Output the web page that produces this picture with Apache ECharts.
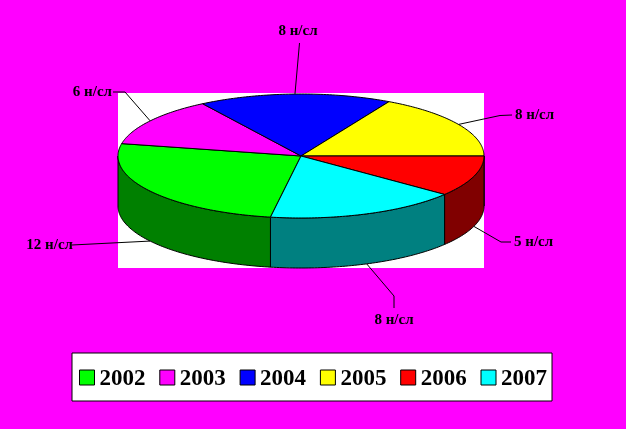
<!DOCTYPE html>
<html>
<head>
<meta charset="utf-8">
<style>html,body{margin:0;padding:0;background:#ff00ff}#c{width:626px;height:429px}</style>
<script src="https://cdn.jsdelivr.net/npm/echarts@6/dist/echarts.min.js"></script>
</head>
<body>
<div id="c"></div>
<script>
const years = ['2002', '2003', '2004', '2005', '2006', '2007'];
const values = [12, 6, 8, 8, 5, 8];
const unit = ' н/сл';
const topColors = ['#00ff00', '#ff00ff', '#0000ff', '#ffff00', '#ff0000', '#00ffff'];
const wallColors = ['#008000', '#800080', '#000080', '#808000', '#800000', '#008080'];

const firstSliceAngle = 99.6;
const pie = { cx: 301, cy: 156, rx: 183, ry: 62, depth: 50 };
// leader line elbows and label anchors, relative to the canvas
const leaders = [
  { elbows: [[72, 245]], text: [73, 245, 'right'] },
  { elbows: [[125, 92], [113, 92]], text: [112, 92, 'right'] },
  { elbows: [[299.5, 43]], text: [298, 31, 'center'] },
  { elbows: [[500, 115.5], [512, 115]], text: [515, 115, 'left'] },
  { elbows: [[501, 242], [511, 242]], text: [514, 242, 'left'] },
  { elbows: [[394, 296], [394, 308]], text: [394, 320, 'center'] }
];

const total = values.reduce((a, b) => a + b, 0);
const rad = d => d * Math.PI / 180;
const pt = (deg, dy) => [pie.cx + pie.rx * Math.cos(rad(deg)), pie.cy + dy + pie.ry * Math.sin(rad(deg))];
function arc(a, b, dy) {
  const out = [];
  const n = Math.max(2, Math.ceil(Math.abs(b - a)));
  for (let i = 0; i <= n; i++) out.push(pt(a + (b - a) * i / n, dy));
  return out;
}
const starts = [];
values.reduce((acc, v, i) => { starts[i] = acc; return acc + v / total * 360; }, firstSliceAngle);

function renderSlice(i, api) {
  const v = api.value(0);
  const a = starts[i], b = a + v / total * 360;
  const children = [];
  const line = { stroke: '#000', lineWidth: 1 };
  // front wall: visible part of the arc is between 0 and 180 degrees (mod 360)
  for (const off of [0, 360]) {
    const lo = Math.max(a, off), hi = Math.min(b, off + 180);
    if (hi > lo) {
      const pts = arc(lo, hi, 0).concat(arc(hi, lo, pie.depth));
      children.push({ type: 'polygon', z2: 1, shape: { points: pts },
        style: Object.assign({ fill: wallColors[i] }, line) });
    }
  }
  // top face
  children.push({ type: 'polygon', z2: 2,
    shape: { points: [[pie.cx, pie.cy]].concat(arc(a, b, 0)) },
    style: Object.assign({ fill: topColors[i] }, line) });
  // leader
  const mid = ((a + b) / 2) % 360;
  const anchor = pt(mid, mid < 180 ? pie.depth : 0);
  children.push({ type: 'polyline', z2: 3,
    shape: { points: [anchor].concat(leaders[i].elbows) },
    style: { stroke: '#000', lineWidth: 1, fill: null } });
  const t = leaders[i].text;
  children.push({ type: 'text', z2: 4, x: t[0], y: t[1],
    style: { text: v + unit, fill: '#000', align: t[2], verticalAlign: 'middle',
      font: 'bold 15px "Liberation Serif"' } });
  return { type: 'group', children };
}

const chart = echarts.init(document.getElementById('c'), null, { renderer: 'canvas' });
chart.setOption({
  animation: false,
  backgroundColor: '#ff00ff',
  graphic: [{ type: 'rect', z: -1, shape: { x: 118, y: 93, width: 366, height: 175 },
    style: { fill: '#fff' }, silent: true }],
  legend: {
    data: years, left: 72, top: 353, orient: 'horizontal',
    padding: [15, 5, 10, 7], itemWidth: 15, itemHeight: 15, itemGap: 13.8,
    backgroundColor: '#fff', borderColor: '#000', borderWidth: 1,
    icon: 'rect', selectedMode: false,
    itemStyle: { borderColor: '#000', borderWidth: 1 },
    formatter: '{y|{name}}',
    textStyle: {
      fontFamily: 'Liberation Serif', fontWeight: 'bold', fontSize: 23, color: '#000',
      rich: { y: { fontFamily: 'Liberation Serif', fontWeight: 'bold', fontSize: 23, color: '#000', padding: [4, 0, 0, 0] } }
    }
  },
  series: years.map((y, i) => ({
    type: 'custom', name: y, coordinateSystem: 'none', silent: true,
    itemStyle: { color: topColors[i] },
    data: [[values[i]]],
    renderItem: (params, api) => renderSlice(i, api)
  }))
});
</script>
</body>
</html>
